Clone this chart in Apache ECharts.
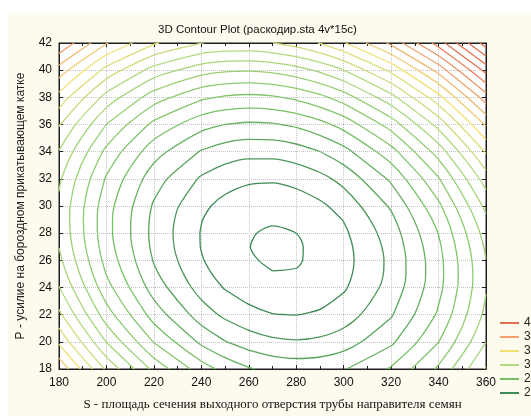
<!DOCTYPE html>
<html>
<head>
<meta charset="utf-8">
<script src="https://cdn.jsdelivr.net/npm/echarts@6/dist/echarts.min.js"></script>
<style>
  html, body { margin: 0; padding: 0; background: #fff; }
  #chart { width: 531px; height: 416px; }
</style>
</head>
<body>
<div id="chart"></div>
<script>
// grid nodes of the response surface: S (x) and P (y)
var sValues = [180, 200, 220, 240, 250, 260, 270, 280, 290, 300, 320, 340, 360];
var pValues = [18, 20, 22, 24, 25, 26, 27, 28, 29, 30, 32, 34, 36, 38, 40, 42];

// surface values, one row per P value
var zRows = [
  [3.579, 3.183, 2.873, 2.648, 2.569, 2.510, 2.473, 2.458, 2.464, 2.492, 2.612, 2.818, 3.110],
  [3.382, 2.995, 2.694, 2.479, 2.404, 2.351, 2.319, 2.308, 2.319, 2.352, 2.481, 2.697, 2.998],
  [3.223, 2.846, 2.555, 2.350, 2.279, 2.231, 2.203, 2.198, 2.213, 2.250, 2.390, 2.615, 2.926],
  [3.104, 2.736, 2.455, 2.259, 2.193, 2.149, 2.127, 2.126, 2.146, 2.188, 2.337, 2.572, 2.892],
  [3.059, 2.696, 2.419, 2.228, 2.165, 2.123, 2.103, 2.105, 2.128, 2.172, 2.325, 2.565, 2.890],
  [3.024, 2.666, 2.393, 2.207, 2.147, 2.107, 2.090, 2.093, 2.119, 2.165, 2.324, 2.568, 2.898],
  [2.998, 2.645, 2.377, 2.196, 2.138, 2.101, 2.086, 2.092, 2.119, 2.169, 2.332, 2.581, 2.916],
  [2.983, 2.634, 2.371, 2.195, 2.139, 2.104, 2.092, 2.100, 2.130, 2.182, 2.349, 2.603, 2.943],
  [2.977, 2.633, 2.375, 2.203, 2.150, 2.118, 2.107, 2.118, 2.150, 2.204, 2.377, 2.635, 2.980],
  [2.980, 2.641, 2.388, 2.221, 2.170, 2.141, 2.132, 2.146, 2.181, 2.237, 2.414, 2.678, 3.027],
  [3.017, 2.688, 2.444, 2.287, 2.241, 2.216, 2.212, 2.231, 2.270, 2.331, 2.518, 2.791, 3.150],
  [3.094, 2.774, 2.540, 2.392, 2.350, 2.330, 2.332, 2.354, 2.399, 2.465, 2.661, 2.944, 3.312],
  [3.209, 2.898, 2.674, 2.536, 2.499, 2.484, 2.490, 2.517, 2.567, 2.637, 2.843, 3.135, 3.513],
  [3.363, 3.062, 2.847, 2.719, 2.687, 2.676, 2.687, 2.720, 2.774, 2.849, 3.065, 3.366, 3.754],
  [3.556, 3.265, 3.060, 2.941, 2.914, 2.908, 2.924, 2.961, 3.019, 3.100, 3.325, 3.636, 4.033],
  [3.789, 3.507, 3.312, 3.202, 3.180, 3.179, 3.199, 3.241, 3.305, 3.390, 3.624, 3.945, 4.352]
];

// contour levels
var contourLevels = [2.1, 2.2, 2.3, 2.4, 2.5, 2.6, 2.7, 2.8, 2.9, 3.0, 3.1, 3.2,
  3.3, 3.4, 3.5, 3.6, 3.7, 3.8, 3.9, 4.0, 4.1, 4.2, 4.3];

// legend entries (top to bottom) and their colours
var legendLevels = [4.0, 3.7, 3.4, 3.1, 2.6, 2.2];
var legendColors = ['#e2704e', '#f2a26e', '#f1e072', '#b4da80', '#74c064', '#3d8a56'];

function hexToRgb(h) {
  return [parseInt(h.substr(1, 2), 16), parseInt(h.substr(3, 2), 16), parseInt(h.substr(5, 2), 16)];
}

// colour of a level, blended between the legend colours
function levelColor(v) {
  var n = legendLevels.length;
  if (v >= legendLevels[0]) return legendColors[0];
  if (v <= legendLevels[n - 1]) return legendColors[n - 1];
  for (var k = 0; k < n - 1; k++) {
    var hi = legendLevels[k], lo = legendLevels[k + 1];
    if (v <= hi && v >= lo) {
      var t = (v - lo) / (hi - lo);
      var c0 = hexToRgb(legendColors[k + 1]), c1 = hexToRgb(legendColors[k]);
      var c = c0.map(function (x, m) { return Math.round(x + (c1[m] - x) * t); });
      return 'rgb(' + c.join(',') + ')';
    }
  }
}

// marching squares over the (non uniform) grid, returns polylines
function traceLevel(level) {
  var pts = {}, links = {};
  function link(a, b) {
    (links[a] = links[a] || []).push(b);
    (links[b] = links[b] || []).push(a);
  }
  function cross(key, x0, y0, z0, x1, y1, z1) {
    if ((z0 > level) === (z1 > level)) return null;
    var t = (level - z0) / (z1 - z0);
    pts[key] = [x0 + t * (x1 - x0), y0 + t * (y1 - y0)];
    return key;
  }
  for (var j = 0; j < pValues.length - 1; j++) {
    for (var i = 0; i < sValues.length - 1; i++) {
      var x0 = sValues[i], x1 = sValues[i + 1], y0 = pValues[j], y1 = pValues[j + 1];
      var a = zRows[j][i], b = zRows[j][i + 1], c = zRows[j + 1][i + 1], d = zRows[j + 1][i];
      var hits = [
        cross('h' + i + '_' + j, x0, y0, a, x1, y0, b),
        cross('v' + (i + 1) + '_' + j, x1, y0, b, x1, y1, c),
        cross('h' + i + '_' + (j + 1), x0, y1, d, x1, y1, c),
        cross('v' + i + '_' + j, x0, y0, a, x0, y1, d)
      ].filter(Boolean);
      if (hits.length === 2) link(hits[0], hits[1]);
      else if (hits.length === 4) { link(hits[0], hits[1]); link(hits[2], hits[3]); }
    }
  }
  var keys = Object.keys(links).sort(function (p, q) { return links[p].length - links[q].length; });
  var used = {}, lines = [];
  keys.forEach(function (k) {
    if (used[k]) return;
    var line = [], cur = k, prev = null;
    while (cur && !used[cur]) {
      used[cur] = true;
      line.push(pts[cur]);
      var next = links[cur].filter(function (q) { return q !== prev && !used[q]; })[0];
      prev = cur;
      cur = next;
    }
    if (links[k].length === 2 && line.length > 2 && links[prev].indexOf(k) >= 0) line.push(pts[k]);
    lines.push(line);
  });
  return lines;
}

var series = [];
contourLevels.forEach(function (lv) {
  var color = levelColor(lv);
  traceLevel(lv).forEach(function (line) {
    series.push({
      name: lv.toFixed(1),
      type: 'line',
      data: line,
      symbol: 'none',
      smooth: 0.25,
      clip: true,
      silent: true,
      color: color,
      lineStyle: { color: color, width: 1.3 }
    });
  });
});

var axisColor = '#1e1e1e';
var labelFont = { color: '#111', fontSize: 12, fontFamily: 'Liberation Sans, Arial, sans-serif' };

var myChart = echarts.init(document.getElementById('chart'));
myChart.setOption({
  animation: false,
  backgroundColor: '#ffffff',
  graphic: [
    {
      type: 'rect',
      z: -10,
      shape: { x: 8, y: 13, width: 523, height: 403 },
      style: { fill: '#fdfbed' }
    }
  ],
  title: {
    text: '3D Contour Plot (раскодир.sta 4v*15c)',
    left: 153,
    top: 19,
    textStyle: { fontSize: 11.5, fontWeight: 'normal', color: '#111', fontFamily: 'Liberation Sans, Arial, sans-serif' }
  },
  legend: {
    orient: 'vertical',
    left: 495,
    top: 311,
    icon: 'rect',
    itemWidth: 19,
    itemHeight: 2,
    itemGap: 0,
    textStyle: {
      fontSize: 12, lineHeight: 14, color: '#222',
      fontFamily: 'Liberation Sans, Arial, sans-serif'
    },
    data: legendLevels.map(function (v) { return v.toFixed(1); })
  },
  grid: {
    left: 59,
    right: 45,
    top: 43,
    bottom: 44,
    show: true,
    backgroundColor: '#ffffff',
    borderColor: axisColor,
    borderWidth: 1
  },
  xAxis: [
    {
      type: 'value',
      min: 180,
      max: 360,
      interval: 20,
      name: 'S - площадь сечения выходного отверстия трубы направителя семян',
      nameLocation: 'middle',
      nameGap: 29,
      nameTextStyle: { fontFamily: 'Liberation Serif, Times New Roman, serif', fontSize: 13, color: '#111' },
      axisLine: { show: true, lineStyle: { color: axisColor } },
      axisTick: { show: true, inside: true, length: 4, lineStyle: { color: axisColor } },
      minorTick: { show: true, splitNumber: 2, length: 3, lineStyle: { color: axisColor } },
      axisLabel: Object.assign({ margin: 8 }, labelFont),
      splitLine: { show: true, lineStyle: { color: '#c4c4c4', type: 'dotted' } }
    },
    {
      type: 'value',
      position: 'top',
      min: 180,
      max: 360,
      interval: 20,
      axisLine: { show: true, lineStyle: { color: axisColor } },
      axisTick: { show: true, inside: true, length: 4, lineStyle: { color: axisColor } },
      minorTick: { show: true, splitNumber: 2, length: 3, lineStyle: { color: axisColor } },
      axisLabel: { show: false },
      splitLine: { show: false }
    }
  ],
  yAxis: [
    {
      type: 'value',
      min: 18,
      max: 42,
      interval: 2,
      name: 'P - усилие на бороздном прикатывающем катке',
      nameLocation: 'middle',
      nameGap: 32,
      nameTextStyle: { fontFamily: 'Liberation Sans, Arial, sans-serif', fontSize: 12, color: '#222' },
      axisLine: { show: true, lineStyle: { color: axisColor } },
      axisTick: { show: true, inside: true, length: 4, lineStyle: { color: axisColor } },
      axisLabel: Object.assign({ margin: 7 }, labelFont),
      splitLine: { show: true, lineStyle: { color: '#c4c4c4', type: 'dotted' } }
    },
    {
      type: 'value',
      position: 'right',
      min: 18,
      max: 42,
      interval: 2,
      axisLine: { show: true, lineStyle: { color: axisColor } },
      axisTick: { show: true, inside: true, length: 4, lineStyle: { color: axisColor } },
      axisLabel: { show: false },
      splitLine: { show: false }
    }
  ],
  series: series
});
</script>
</body>
</html>
